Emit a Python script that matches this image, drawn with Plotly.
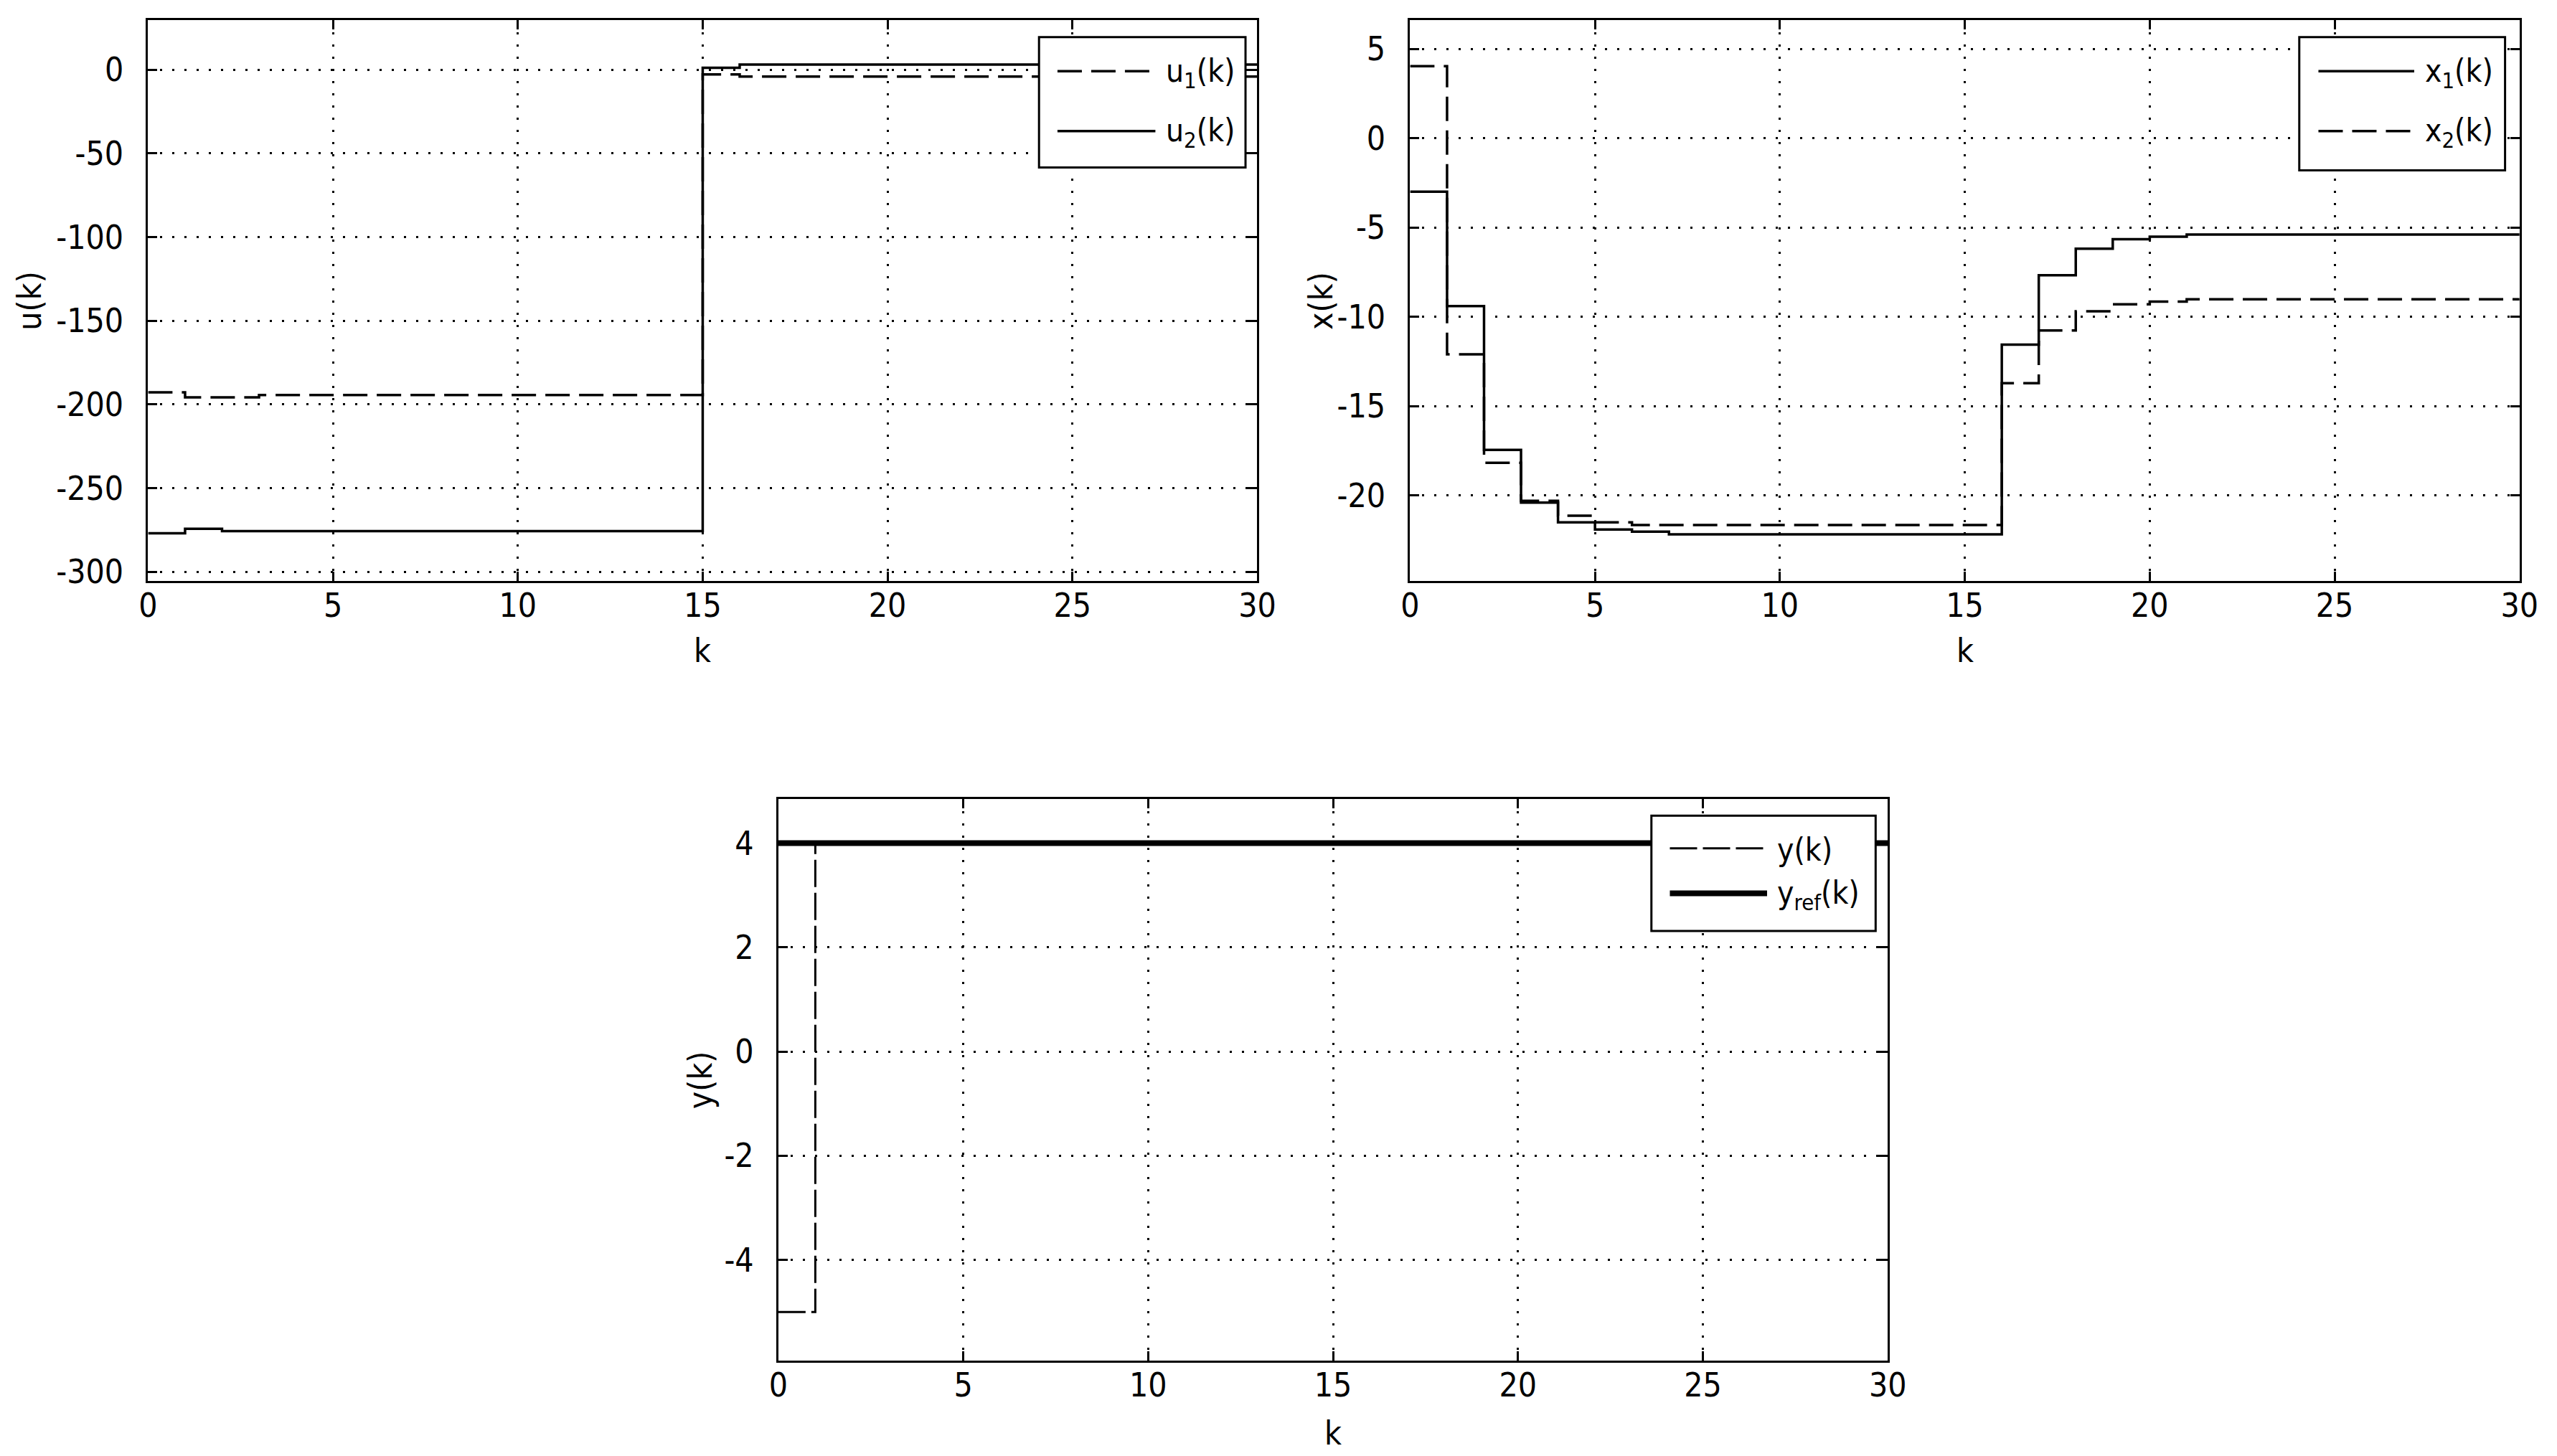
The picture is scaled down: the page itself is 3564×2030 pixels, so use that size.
import plotly.graph_objects as go

FONT = "Liberation Sans Narrow, Arial Narrow, DejaVu Sans Condensed, sans-serif"
W, H = 3564, 2030

# time steps
k = [0, 1, 2, 3, 4, 5, 6, 7, 8, 9, 10, 11, 12, 13, 14, 15,
     16, 17, 18, 19, 20, 21, 22, 23, 24, 25, 26, 27, 28, 29, 30]

# control inputs
u1 = [-192.8, -195.8, -195.8, -194.4, -194.4, -194.4, -194.4, -194.4, -194.4, -194.4,
      -194.4, -194.4, -194.4, -194.4, -194.4, -2.9, -4.2, -4.2, -4.2, -4.2,
      -4.2, -4.2, -4.2, -4.2, -4.2, -4.2, -4.2, -4.2, -4.2, -4.2, -4.2]
u2 = [-277.0, -274.3, -275.7, -275.7, -275.7, -275.7, -275.7, -275.7, -275.7, -275.7,
      -275.7, -275.7, -275.7, -275.7, -275.7, 1.1, 3.0, 3.0, 3.0, 3.0,
      3.0, 3.0, 3.0, 3.0, 3.0, 3.0, 3.0, 3.0, 3.0, 3.0, 3.0]

# states
x1 = [-3.0, -9.4, -17.45, -20.4, -21.5, -21.9, -22.03, -22.18, -22.18, -22.18,
      -22.18, -22.18, -22.18, -22.18, -22.18, -22.18, -11.56, -7.67, -6.19, -5.66,
      -5.52, -5.4, -5.4, -5.4, -5.4, -5.4, -5.4, -5.4, -5.4, -5.4, -5.4]
x2 = [4.03, -12.1, -18.17, -20.3, -21.13, -21.5, -21.65, -21.65, -21.65, -21.65,
      -21.65, -21.65, -21.65, -21.65, -21.65, -21.65, -13.72, -10.77, -9.69, -9.3,
      -9.15, -9.02, -9.02, -9.02, -9.02, -9.02, -9.02, -9.02, -9.02, -9.02, -9.02]

# output and reference
y = [-5, 4, 4, 4, 4, 4, 4, 4, 4, 4, 4, 4, 4, 4, 4, 4,
     4, 4, 4, 4, 4, 4, 4, 4, 4, 4, 4, 4, 4, 4, 4]
y_ref = [4, 4, 4, 4, 4, 4, 4, 4, 4, 4, 4, 4, 4, 4, 4, 4,
         4, 4, 4, 4, 4, 4, 4, 4, 4, 4, 4, 4, 4, 4, 4]

k_ticks = [0, 5, 10, 15, 20, 25, 30]
u_ticks = [-300, -250, -200, -150, -100, -50, 0]
x_ticks = [-20, -15, -10, -5, 0, 5]
y_ticks = [-4, -2, 0, 2, 4]

DASH = "34px,13px"
thin_dash = dict(color="black", width=3.5, dash=DASH)
thin_solid = dict(color="black", width=3.5, dash="solid")
y_dash = dict(color="black", width=3, dash="38px,8px")
thick_solid = dict(color="black", width=8, dash="solid")

series = [
    # name, values, line, axes suffix
    ("u<sub>1</sub>(k)", u1, thin_dash, ""),
    ("u<sub>2</sub>(k)", u2, thin_solid, ""),
    ("x<sub>1</sub>(k)", x1, thin_solid, "2"),
    ("x<sub>2</sub>(k)", x2, thin_dash, "2"),
    ("y(k)", y, y_dash, "3"),
    ("y<sub>ref</sub>(k)", y_ref, thick_solid, "3"),
]

fig = go.Figure()
for name, vals, line, ax in series:
    fig.add_trace(go.Scatter(x=k, y=vals, mode="lines", line_shape="hv", name=name,
                             line=line, xaxis="x" + ax, yaxis="y" + ax, showlegend=False))


def axis_style(ticks, domain, anchor, rng, standoff):
    return dict(
        domain=domain, anchor=anchor, range=rng,
        tickvals=ticks, ticktext=[str(t) for t in ticks],
        showline=True, linecolor="black", linewidth=3, mirror="ticks",
        ticks="inside", ticklen=13, tickwidth=3, tickcolor="black",
        showgrid=True, gridcolor="black", gridwidth=3, griddash="3px,14px",
        zeroline=False, ticklabelstandoff=standoff,
        tickfont=dict(family=FONT, size=46, color="black"),
    )


top_dom = [0.602, 0.99]
bot_dom = [0.0628, 0.4515]

fig.update_layout(
    width=W, height=H,
    margin=dict(l=0, r=0, t=0, b=0),
    paper_bgcolor="white", plot_bgcolor="white",
    showlegend=False,
    xaxis=axis_style(k_ticks, [0.0526, 0.4912], "y", [0, 30], -9),
    yaxis=axis_style(u_ticks, top_dom, "x", [-305.6, 29.5], 22),
    xaxis2=axis_style(k_ticks, [0.5516, 0.9903], "y2", [0, 30], -9),
    yaxis2=axis_style(x_ticks, top_dom, "x2", [-24.8, 6.6], 22),
    xaxis3=axis_style(k_ticks, [0.3018, 0.7405], "y3", [0, 30], -9),
    yaxis3=axis_style(y_ticks, bot_dom, "x3", [-5.94, 4.85], 22),
)

titles = [
    ("u(k)", 0.0058, 0.796, -90),
    ("x(k)", 0.5165, 0.796, -90),
    ("y(k)", 0.2708, 0.2571, -90),
    ("k", 0.2719, 0.554, 0),
    ("k", 0.771, 0.554, 0),
    ("k", 0.5211, 0.0128, 0),
]
for text, ax, ay, ang in titles:
    fig.add_annotation(text=text, x=ax, y=ay, xref="paper", yref="paper", showarrow=False,
                       textangle=ang, xanchor="center", yanchor="middle",
                       font=dict(family=FONT, size=46, color="black"))


# MATLAB-style legend boxes (pixel layout: box, sample line span, text start, row heights)
def draw_legend(entries, box, line_span, text_x, rows):
    bx0, by0, bx1, by1 = box
    fig.add_shape(type="rect", xref="paper", yref="paper",
                  x0=bx0 / W, x1=bx1 / W, y0=1 - by1 / H, y1=1 - by0 / H,
                  line=dict(color="black", width=3), fillcolor="white", layer="above")
    for idx, ry in zip(entries, rows):
        name, _, line, _ = series[idx]
        fig.add_shape(type="line", xref="paper", yref="paper",
                      x0=line_span[0] / W, x1=line_span[1] / W, y0=1 - ry / H, y1=1 - ry / H,
                      line=line, layer="above")
        fig.add_annotation(text=name, x=text_x / W, y=1 - (ry + 2) / H, xref="paper", yref="paper",
                           showarrow=False, xanchor="left", yanchor="middle",
                           font=dict(family=FONT, size=44, color="black"))


draw_legend([0, 1], (1443, 44, 1734, 227), (1469, 1607), 1620, (92, 176))
draw_legend([2, 3], (3219, 44, 3509, 231), (3246, 3381), 3394, (92, 176))
draw_legend([4, 5], (2306, 1137, 2622, 1299), (2332, 2469), 2481, (1183, 1246))

fig.write_html("out.html")
